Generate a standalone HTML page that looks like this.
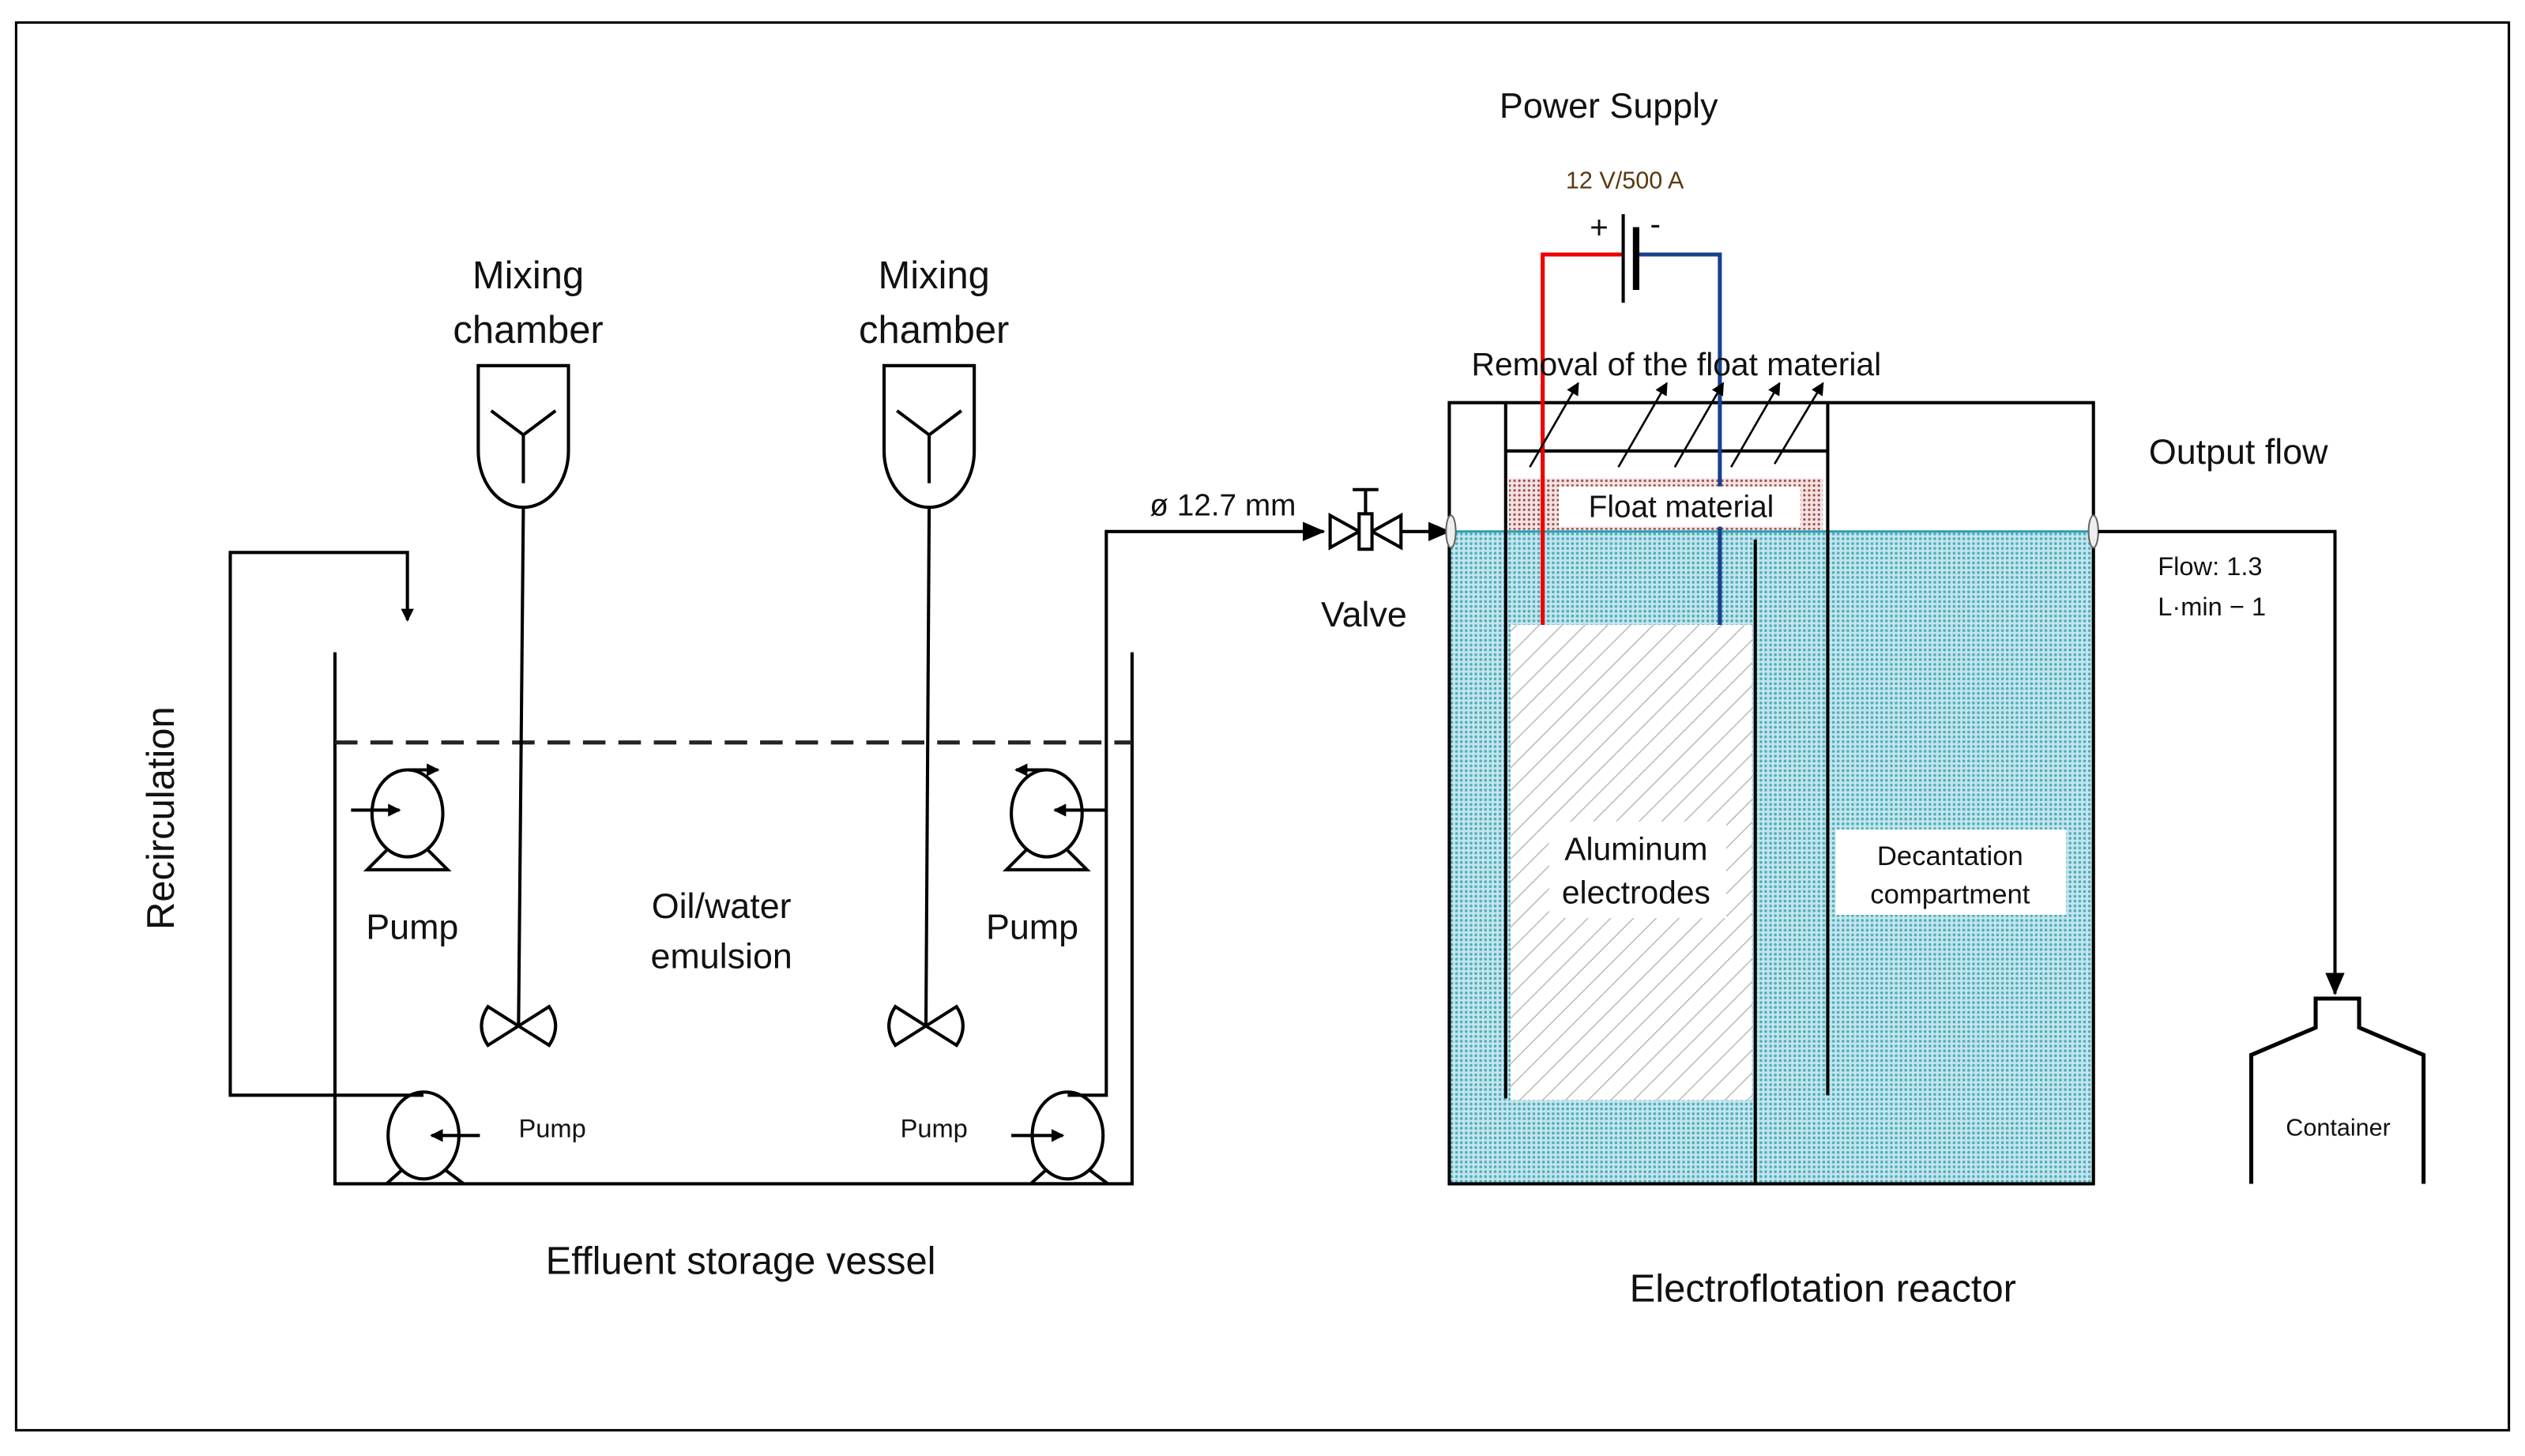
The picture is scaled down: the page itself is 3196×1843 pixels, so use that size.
<!DOCTYPE html>
<html><head><meta charset="utf-8"><style>
html,body{margin:0;padding:0;background:#fff;}
svg{display:block;}
text{font-family:"Liberation Sans",sans-serif;fill:#111;}
</style></head><body>
<svg width="3196" height="1843" viewBox="0 0 1568 904" preserveAspectRatio="none" xmlns="http://www.w3.org/2000/svg">
<defs>
<marker id="ah" markerWidth="8" markerHeight="8" refX="7" refY="4" orient="auto" markerUnits="userSpaceOnUse"><path d="M0,0 L8,4 L0,8 z" fill="#000"/></marker>
<marker id="ah2" markerWidth="14" markerHeight="12" refX="13" refY="6" orient="auto" markerUnits="userSpaceOnUse"><path d="M0,0 L14,6 L0,12 z" fill="#000"/></marker>
<pattern id="hatch" width="10" height="10" patternUnits="userSpaceOnUse" patternTransform="rotate(45)"><rect width="10" height="10" fill="#fff"/><line x1="0" y1="0" x2="0" y2="10" stroke="#bbb" stroke-width="1.5"/></pattern>
<pattern id="dots" width="3" height="3" patternUnits="userSpaceOnUse"><rect width="3" height="3" fill="#c4e6ec"/><circle cx="1.5" cy="1.5" r="0.9" fill="#52aebf"/></pattern>
<pattern id="rdots" width="3" height="3" patternUnits="userSpaceOnUse"><rect width="3" height="3" fill="#f3e3e3"/><circle cx="1.5" cy="1.5" r="0.8" fill="#a05050"/></pattern>
</defs>
<rect x="10" y="14" width="1548" height="874" fill="none" stroke="#000" stroke-width="1.5"/>

<!-- left vessel -->
<polyline points="208,405 208,735 703,735 703,405" fill="none" stroke="#000" stroke-width="2"/>
<line x1="208" y1="461" x2="703" y2="461" stroke="#222" stroke-width="2.5" stroke-dasharray="14,8"/>

<!-- mixers -->
<g fill="none" stroke="#000" stroke-width="2">
<path d="M297,227 H353 V280 A28,35 0 0 1 297,280 Z"/>
<polyline points="305,255 325,270 345,255"/><line x1="325" y1="270" x2="325" y2="300"/>
<line x1="325" y1="315" x2="322" y2="637"/>
<path d="M322,637 L303,625 Q295,637 303,649 Z M322,637 L341,625 Q349,637 341,649 Z"/>
<path d="M549,227 H605 V280 A28,35 0 0 1 549,280 Z"/>
<polyline points="557,255 577,270 597,255"/><line x1="577" y1="270" x2="577" y2="300"/>
<line x1="577" y1="315" x2="575" y2="637"/>
<path d="M575,637 L556,625 Q548,637 556,649 Z M575,637 L594,625 Q602,637 594,649 Z"/>
</g>

<!-- pumps -->
<g fill="none" stroke="#000" stroke-width="2">
<ellipse cx="253" cy="505" rx="22" ry="27"/><path d="M240,528 L228,540 H278 L266,528"/>
<line x1="218" y1="503" x2="248" y2="503" marker-end="url(#ah)"/>
<path d="M253,478 H272" marker-end="url(#ah)"/>
<ellipse cx="650" cy="505" rx="22" ry="27"/><path d="M637,528 L625,540 H675 L663,528"/>
<line x1="687" y1="503" x2="655" y2="503" marker-end="url(#ah)"/>
<path d="M650,478 H631" marker-end="url(#ah)"/>
<ellipse cx="263" cy="705" rx="22" ry="27"/><path d="M250,726 L240,735 H288 L276,726"/>
<line x1="298" y1="705" x2="268" y2="705" marker-end="url(#ah)"/>
<ellipse cx="663" cy="705" rx="22" ry="27"/><path d="M650,726 L640,735 H688 L676,726"/>
<line x1="628" y1="705" x2="660" y2="705" marker-end="url(#ah)"/>
</g>
<!-- recirculation -->
<g fill="none" stroke="#000" stroke-width="2">
<polyline points="263,680 143,680 143,343 253,343 253,385" marker-end="url(#ah)"/>
<polyline points="663,680 687,680 687,330 822,330" marker-end="url(#ah2)"/>
</g>
<text x="0" y="0" font-size="24" text-anchor="middle" transform="translate(108,508) rotate(-90)">Recirculation</text>

<text x="328" y="179" font-size="24" text-anchor="middle">Mixing</text>
<text x="328" y="213" font-size="24" text-anchor="middle">chamber</text>
<text x="580" y="179" font-size="24" text-anchor="middle">Mixing</text>
<text x="580" y="213" font-size="24" text-anchor="middle">chamber</text>
<text x="256" y="583" font-size="22" text-anchor="middle">Pump</text>
<text x="641" y="583" font-size="22" text-anchor="middle">Pump</text>
<text x="448" y="570" font-size="22" text-anchor="middle">Oil/water</text>
<text x="448" y="601" font-size="22" text-anchor="middle">emulsion</text>
<text x="343" y="706" font-size="16" text-anchor="middle">Pump</text>
<text x="580" y="706" font-size="16" text-anchor="middle">Pump</text>
<text x="460" y="791" font-size="24" text-anchor="middle">Effluent storage vessel</text>

<!-- valve -->
<text x="714" y="320" font-size="19">ø  12.7 mm</text>
<g fill="#fff" stroke="#000" stroke-width="2">
<path d="M826,320 L844,330 L826,340 Z"/><path d="M870,320 L852,330 L870,340 Z"/>
<rect x="844" y="319" width="8" height="22"/>
</g>
<line x1="848" y1="319" x2="848" y2="304" stroke="#000" stroke-width="2"/>
<line x1="840" y1="304" x2="856" y2="304" stroke="#000" stroke-width="2"/>
<line x1="870" y1="330" x2="900" y2="330" stroke="#000" stroke-width="2" marker-end="url(#ah2)"/>
<text x="847" y="389" font-size="22" text-anchor="middle">Valve</text>

<!-- reactor -->
<rect x="900" y="330" width="400" height="405" fill="url(#dots)"/>
<rect x="937" y="297" width="195" height="32" fill="url(#rdots)"/>
<line x1="900" y1="330" x2="1300" y2="330" stroke="#2a9fb0" stroke-width="1.5"/>
<rect x="938" y="388" width="150" height="295" fill="url(#hatch)"/>
<rect x="962" y="510" width="110" height="60" fill="#fff"/>
<text x="1016" y="534" font-size="20" text-anchor="middle">Aluminum</text>
<text x="1016" y="561" font-size="20" text-anchor="middle">electrodes</text>
<rect x="1140" y="515" width="143" height="53" fill="#fff"/>
<text x="1211" y="537" font-size="17" text-anchor="middle">Decantation</text>
<text x="1211" y="561" font-size="17" text-anchor="middle">compartment</text>
<g fill="none" stroke="#000" stroke-width="2">
<rect x="900" y="250" width="400" height="485"/>
<line x1="935" y1="250" x2="935" y2="682"/>
<line x1="1135" y1="250" x2="1135" y2="680"/>
<line x1="935" y1="280" x2="1135" y2="280"/>
<line x1="1090" y1="335" x2="1090" y2="735"/>
</g>
<ellipse cx="901" cy="330" rx="3" ry="10" fill="#eee" stroke="#666"/>
<ellipse cx="1300" cy="330" rx="3" ry="10" fill="#eee" stroke="#666"/>
<polyline points="1008,158 958,158 958,388" fill="none" stroke="#e00" stroke-width="2.5"/>
<polyline points="1016,158 1068,158 1068,388" fill="none" stroke="#1a3f8f" stroke-width="2.5"/>
<rect x="968" y="302" width="150" height="25" fill="#fff"/>
<text x="1044" y="321" font-size="19" text-anchor="middle">Float material</text>
<g stroke="#000" stroke-width="1.3">
<line x1="950" y1="290" x2="980" y2="238" marker-end="url(#ah)"/>
<line x1="1005" y1="290" x2="1035" y2="238" marker-end="url(#ah)"/>
<line x1="1040" y1="290" x2="1070" y2="238" marker-end="url(#ah)"/>
<line x1="1075" y1="290" x2="1105" y2="238" marker-end="url(#ah)"/>
<line x1="1102" y1="288" x2="1132" y2="238" marker-end="url(#ah)"/>
</g>
<line x1="1008" y1="133" x2="1008" y2="188" stroke="#000" stroke-width="2"/>
<line x1="1016" y1="141" x2="1016" y2="180" stroke="#000" stroke-width="4"/>
<text x="993" y="148" font-size="20" text-anchor="middle">+</text>
<text x="1028" y="146" font-size="20" text-anchor="middle">-</text>
<text x="1009" y="117" font-size="15" text-anchor="middle" style="fill:#5a3a10">12 V/500 A</text>
<text x="999" y="73" font-size="22" text-anchor="middle">Power Supply</text>
<text x="1041" y="233" font-size="20" text-anchor="middle">Removal of the float material</text>
<text x="1132" y="808" font-size="24" text-anchor="middle">Electroflotation reactor</text>

<!-- output -->
<polyline points="1303,330 1450,330 1450,617" fill="none" stroke="#000" stroke-width="2" marker-end="url(#ah2)"/>
<text x="1390" y="288" font-size="22" text-anchor="middle">Output flow</text>
<text x="1340" y="357" font-size="16">Flow: 1.3</text>
<text x="1340" y="382" font-size="16">L·min − 1</text>
<path d="M1398,735 V655 L1438,638 V620 H1465 V638 L1505,655 V735" fill="none" stroke="#000" stroke-width="2.5"/>
<text x="1452" y="705" font-size="15" text-anchor="middle">Container</text>
</svg>
</body></html>
